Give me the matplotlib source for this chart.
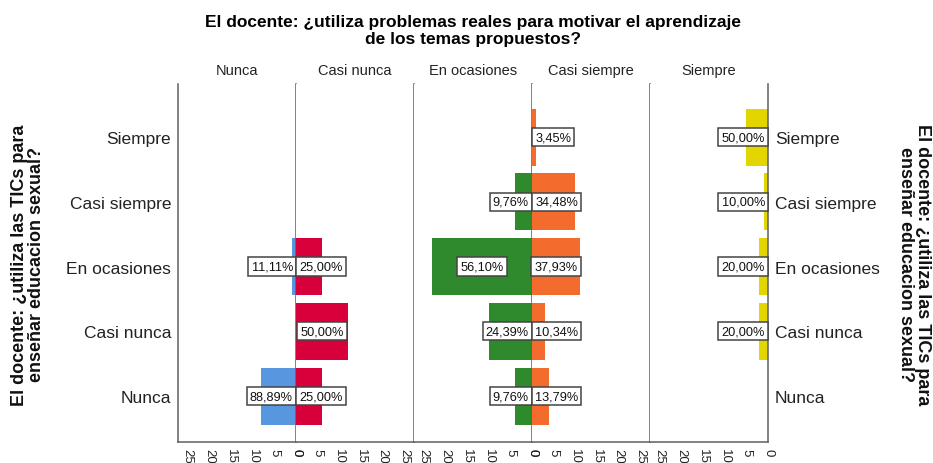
import matplotlib
matplotlib.use("Agg")
from matplotlib import pyplot as plt

# filas (eje y), de abajo hacia arriba
filas = ['Nunca', 'Casi nunca', 'En ocasiones', 'Casi siempre', 'Siempre']

# paneles (problemas reales) y recuentos por fila
paneles = ['Nunca', 'Casi nunca', 'En ocasiones', 'Casi siempre', 'Siempre']
nunca = [8, 0, 1, 0, 0]
casi_nunca = [6, 12, 6, 0, 0]
en_ocasiones = [4, 10, 23, 4, 0]
casi_siempre = [4, 3, 11, 10, 1]
siempre = [0, 2, 2, 1, 5]
recuentos = [nunca, casi_nunca, en_ocasiones, casi_siempre, siempre]

colores = ['#5896E0', '#D7003A', '#2E8A2C', '#F36B2D', '#E3D600']
ticks_x = [0, 5, 10, 15, 20, 25]

plt.rcParams['font.family'] = ['Liberation Sans', 'DejaVu Sans']

fig = plt.figure(figsize=(9.33, 4.64), dpi=100)
W, H = 933, 464
x0, ancho = 178, 118
y_top, y_bot = 85, 443
gris = '#5f5f5f'

axes = []
for i, (nombre, vals, col) in enumerate(zip(paneles, recuentos, colores)):
    ax = fig.add_axes([(x0 + i * ancho) / W, 1 - y_bot / H, ancho / W, (y_bot - y_top) / H])
    axes.append(ax)
    total = sum(vals)
    ys = range(len(filas))
    ax.barh(ys, vals, height=0.88, color=col, edgecolor='none')
    ax.set_xlim(0, 27.2)
    ax.set_ylim(-0.71, 4.82)
    izquierda = (i % 2 == 0)
    if izquierda:
        ax.invert_xaxis()
    for y, v in zip(ys, vals):
        if v == 0:
            continue
        texto = f'{v / total * 100:.2f}'.replace('.', ',') + '%'
        mitad = 5.35 if len(texto) >= 6 else 4.4
        if v / 2 >= mitad:
            x, ha = v / 2, 'center'
        else:
            x, ha = 0.7, ('right' if izquierda else 'left')
        ax.text(x, y, texto, ha=ha, va='center', fontsize=9.2, color='#111111',
                bbox=dict(boxstyle='square,pad=0.25', fc='white', ec='#444444', lw=1.1))
    for s in ['top', 'left', 'right']:
        ax.spines[s].set_visible(False)
    ax.spines['right'].set_visible(True)
    if i == 0:
        ax.spines['left'].set_visible(True)
    for s in ax.spines.values():
        s.set_color(gris)
        s.set_linewidth(1.1)
    ax.set_xticks(ticks_x)
    ax.set_xticklabels([str(t) for t in ticks_x], rotation=-90, fontsize=9.5, color='#222222')
    ax.set_yticks(list(ys))
    ax.set_yticklabels(filas, fontsize=12.5, color='#222222')
    ax.tick_params(axis='both', length=0)
    ax.tick_params(axis='x', pad=4)
    ax.tick_params(axis='y', pad=5, labelleft=(i == 0), labelright=(i == 4))
    fig.text((x0 + i * ancho + ancho / 2) / W, 1 - 71 / H, nombre,
             ha='center', va='center', fontsize=10.5, color='#222222')

fig.text(473 / W, 1 - 31 / H,
         'El docente: ¿utiliza problemas reales para motivar el aprendizaje\nde los temas propuestos?',
         ha='center', va='center', fontsize=12.5, fontweight='bold',
         family=['Liberation Sans Narrow', 'Liberation Sans', 'DejaVu Sans'], linespacing=1.1)

etiqueta = 'El docente: ¿utiliza las TICs para\nenseñar educacion sexual?'
fig.text(28 / W, 1 - 265 / H, etiqueta, rotation=90, ha='center', va='center',
         fontsize=13, fontweight='bold', linespacing=0.95, color='#111111')
fig.text(914 / W, 1 - 265 / H, etiqueta, rotation=-90, ha='center', va='center',
         fontsize=13, fontweight='bold', linespacing=0.95, color='#111111')

fig.savefig('out.png', dpi=100)
